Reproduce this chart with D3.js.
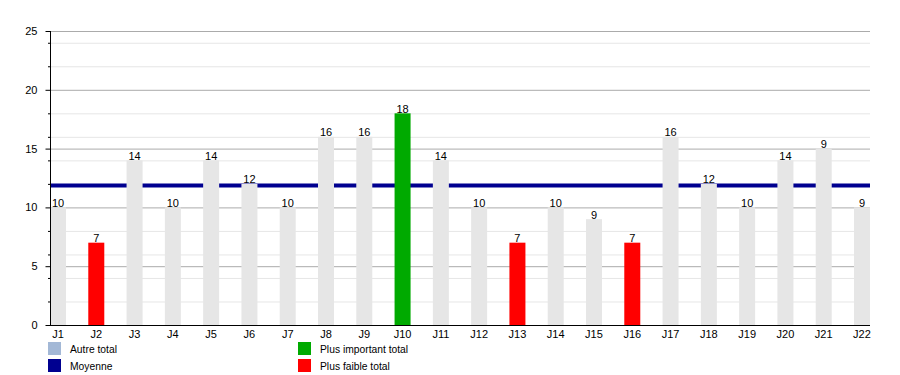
<!DOCTYPE html>
<html><head><meta charset="utf-8">
<script src="https://cdn.jsdelivr.net/npm/d3@7"></script>
<style>
body{margin:0;background:#fff;}
svg{display:block;font-family:"Liberation Sans",Arial,sans-serif;}
</style></head>
<body>
<svg id="c" width="900" height="375"></svg>
<script>
const categories = ["J1","J2","J3","J4","J5","J6","J7","J8","J9","J10","J11","J12","J13","J14","J15","J16","J17","J18","J19","J20","J21","J22"];
const totals = [10,7,14,10,14,12,10,16,16,18,14,10,7,10,9,7,16,12,10,14,15,10];
const valueLabels = ["10","7","14","10","14","12","10","16","16","18","14","10","7","10","9","7","16","12","10","14","9","9"];
const barKind = ["other","low","other","other","other","other","other","other","other","high","other","other","low","other","other","low","other","other","other","other","other","other"];
const majorTicks = [0,5,10,15,20,25];
const minorTicks = [2,4,6,8,12,14,16,18,22,24];
const legendItems = [
  {label:"Autre total", kind:"legendOther"},
  {label:"Moyenne", kind:"mean"},
  {label:"Plus important total", kind:"high"},
  {label:"Plus faible total", kind:"low"}
];
const colors = {other:"#e6e6e6", legendOther:"#a3b8d6", mean:"#000090", high:"#00aa00", low:"#ff0000"};

(function(){
const svg = d3.select("#c");
const mLeft = 50, mRight = 870, mTop = 31, mBottom = 325;
const x = d3.scaleBand().domain(categories).range([mLeft, mRight]).paddingInner(0.582).paddingOuter(0);
const y = d3.scaleLinear().domain([0,25]).range([mBottom, mTop]);

// grid
const gridG = svg.append("g");
gridG.selectAll("line.minor").data(minorTicks).join("line").attr("class","minor")
  .attr("x1", mLeft).attr("x2", mRight).attr("y1", d=>y(d)+0.5).attr("y2", d=>y(d)+0.5)
  .attr("stroke", "#e6e6e6").attr("stroke-width",1);
gridG.selectAll("line.major").data(majorTicks.filter(d=>d>0)).join("line").attr("class","major")
  .attr("x1", mLeft).attr("x2", mRight).attr("y1", d=>y(d)+0.5).attr("y2", d=>y(d)+0.5)
  .attr("stroke", "#ababab").attr("stroke-width",1);

// mean line (under bars)
const mean = d3.mean(totals);
svg.append("line").attr("x1", mLeft).attr("x2", mRight)
  .attr("y1", y(mean)).attr("y2", y(mean))
  .attr("stroke", colors.mean).attr("stroke-width", 4);

// bars
svg.append("g").selectAll("rect").data(totals).join("rect")
  .attr("x", (d,i)=>x(categories[i]))
  .attr("width", x.bandwidth())
  .attr("y", d=>y(d))
  .attr("height", d=>y(0)-y(d))
  .attr("fill", (d,i)=>colors[barKind[i]]);

// value labels
svg.append("g").selectAll("text").data(totals).join("text")
  .attr("x", (d,i)=>x(categories[i])+x.bandwidth()/2)
  .attr("y", d=>y(d)-0.5)
  .attr("text-anchor","middle")
  .attr("font-size", 11).attr("fill","#000")
  .text((d,i)=>valueLabels[i]);

// y axis
const yAxis = d3.axisLeft(y).tickValues(majorTicks).tickSize(5).tickPadding(8).tickFormat(d3.format("d"));
const ga = svg.append("g").attr("transform",`translate(${mLeft+0.5},0)`).call(yAxis);
ga.select(".domain").attr("stroke","#000").attr("d",`M0,${mTop}V${mBottom}`);
ga.selectAll("text").attr("font-size",11).attr("font-family","Liberation Sans, Arial, sans-serif").attr("fill","#000");
ga.selectAll(".tick line").attr("stroke","#000");
svg.append("g").selectAll("line").data(minorTicks).join("line")
  .attr("x1", mLeft-2).attr("x2", mLeft).attr("y1", d=>y(d)+0.5).attr("y2", d=>y(d)+0.5).attr("stroke","#000");

// x axis
const xAxis = d3.axisBottom(x).tickSize(0).tickPadding(5);
const gx = svg.append("g").attr("transform",`translate(0,${mBottom})`).call(xAxis);
gx.select(".domain").attr("stroke","#000").attr("d",`M${mLeft},0.5H${mRight}`);
gx.selectAll("text").attr("font-size",11).attr("font-family","Liberation Sans, Arial, sans-serif").attr("fill","#000");

// legend
const lg = svg.append("g").selectAll("g").data(legendItems).join("g")
  .attr("transform",(d,i)=>`translate(${i<2?48:298},${342 + (i%2)*17})`);
lg.append("rect").attr("width",13).attr("height",13).attr("fill",d=>colors[d.kind]);
lg.append("text").attr("x",22).attr("y",10.5).attr("font-size",10.3).attr("fill","#000").text(d=>d.label);
})();
</script>
</body></html>
